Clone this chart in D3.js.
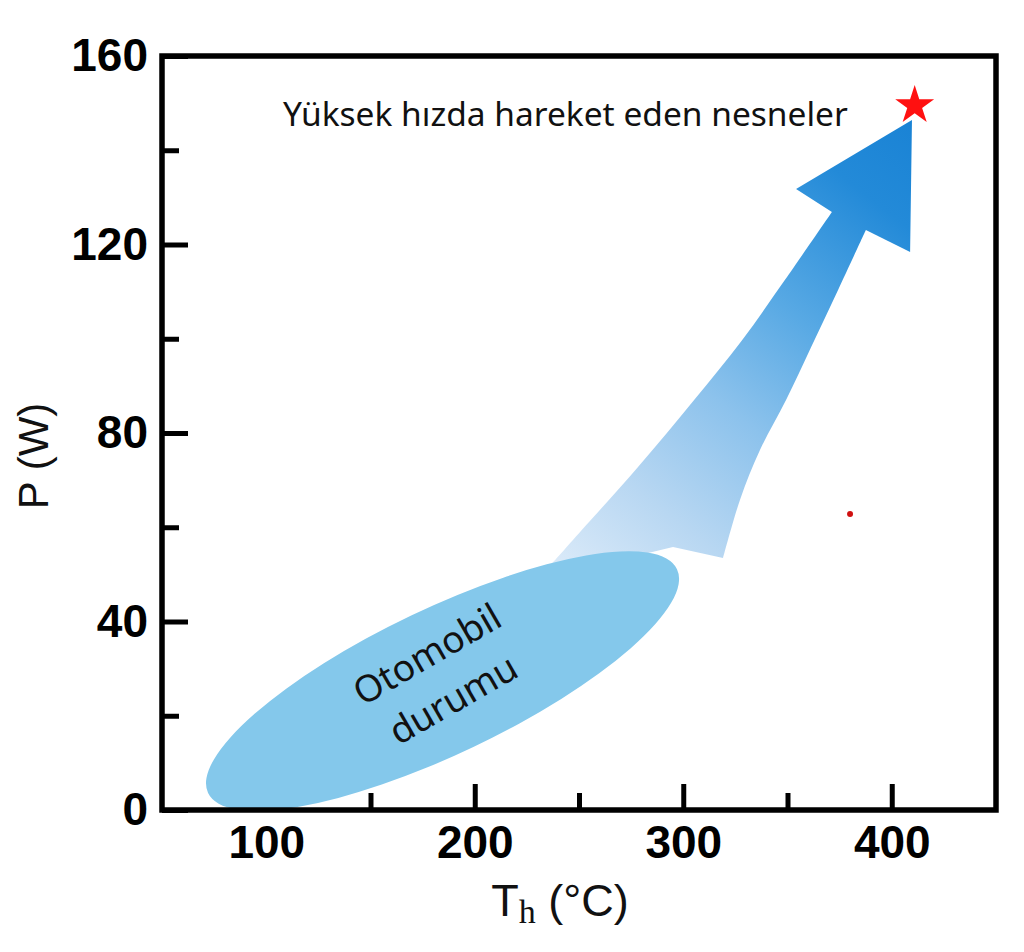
<!DOCTYPE html>
<html><head><meta charset="utf-8">
<script src="https://cdn.jsdelivr.net/npm/d3@7"></script>
<style>body{margin:0;background:#fff}</style>
</head><body><svg id="c" width="1024" height="952"></svg>
<script>
// ---- data ----
const xDomain = [50, 450];
const yDomain = [0, 160];
const xMajor = [100, 200, 300, 400];
const xMinor = [150, 250, 350];
const yMajor = [0, 40, 80, 120, 160];
const yMinor = [20, 60, 100, 140];
const xTitle = "T";
const xTitleSub = "h";
const xTitleRest = " (°C)";
const yTitle = "P (W)";
// arrow outline (T, P): head, right edge (top→bottom), bottom, left edge (bottom→top)
const headT = [354.1, 409.7, 408.8];
const headP = [131.8, 146.4, 118.4];
const rightEdgeT = [387.6, 374.2, 361.3, 349.3, 336.8, 327.2, 319.1];
const rightEdgeP = [123.1, 110.3, 98.2, 87.0, 76.4, 65.8, 53.5];
const bottomT = [295.1, 269.7, 243.3];
const bottomP = [55.8, 53.1, 49.9];
const leftEdgeT = [234.2, 247.1, 278.3, 305.2, 328.2, 348.8, 371.3];
const leftEdgeP = [50.9, 57.3, 72.8, 87.0, 99.7, 112.5, 126.9];
// automobile region: ends of the long axis (T, P)
const regionT = [72.1, 297.0];
const regionP = [3.6, 51.1];
const regionLabel = ["Otomobil", "durumu"];
const starT = [411], starP = [149.5];
const dotT = [380], dotP = [62.8];
const topLabel = "Yüksek hızda hareket eden nesneler";

// ---- chart ----
const svg = d3.select("#c");
const x = d3.scaleLinear().domain(xDomain).range([162, 996]);
const y = d3.scaleLinear().domain(yDomain).range([810, 56]);

const defs = svg.append("defs");
const grad = defs.append("linearGradient").attr("id", "ag")
  .attr("gradientUnits", "userSpaceOnUse")
  .attr("x1", x(240)).attr("y1", y(50)).attr("x2", x(410)).attr("y2", y(146));
[[0, "#dcebf9"], [0.2, "#b8d7f2"], [0.41, "#8cc2ec"], [0.61, "#58a9e4"], [0.85, "#238ad8"], [1, "#1a83d5"]]
  .forEach(([o, c]) => grad.append("stop").attr("offset", o).attr("stop-color", c));

const tickFont = "'Liberation Sans', Arial, sans-serif";

// axes ticks
const gx = svg.append("g").attr("transform", "translate(0,810)")
  .call(d3.axisBottom(x).tickValues(xMajor).tickSize(-26).tickPadding(15).tickFormat(d3.format("d")));
const gxm = svg.append("g").attr("transform", "translate(0,810)")
  .call(d3.axisBottom(x).tickValues(xMinor).tickSize(-17).tickFormat(""));
const gy = svg.append("g").attr("transform", "translate(162,0)")
  .call(d3.axisLeft(y).tickValues(yMajor).tickSize(-26).tickPadding(14).tickFormat(d3.format("d")));
const gym = svg.append("g").attr("transform", "translate(162,0)")
  .call(d3.axisLeft(y).tickValues(yMinor).tickSize(-17).tickFormat(""));
[gx, gxm, gy, gym].forEach(g => {
  g.select(".domain").remove();
  g.selectAll("line").attr("stroke", "#000").attr("stroke-width", 5);
  g.selectAll("text").attr("font-family", tickFont).attr("font-weight", "bold")
    .attr("font-size", 46).attr("fill", "#000");
});

// arrow
const toPts = (ts, ps) => ts.map((t, i) => [x(t), y(ps[i])]);
const headPts = toPts(headT, headP);
const rightPts = toPts(rightEdgeT, rightEdgeP);
const bottomPts = toPts(bottomT, bottomP);
const leftPts = toPts(leftEdgeT, leftEdgeP);
const smooth = d3.line().curve(d3.curveCatmullRom.alpha(0.5));
const straight = d3.line();
const join = s => s.replace(/^M/, "L");
const arrowD = straight(headPts.slice(1)) + join(smooth(rightPts)) + join(straight(bottomPts))
  + join(smooth(leftPts)) + join(straight([headPts[0]])) + "Z";
svg.append("path").attr("d", arrowD).attr("fill", "url(#ag)");

// ellipse region
const ex0 = x(regionT[0]), ey0 = y(regionP[0]), ex1 = x(regionT[1]), ey1 = y(regionP[1]);
const ecx = (ex0 + ex1) / 2, ecy = (ey0 + ey1) / 2;
const ea = Math.hypot(ex1 - ex0, ey1 - ey0) / 2;
const eang = Math.atan2(ey1 - ey0, ex1 - ex0) * 180 / Math.PI;
svg.append("ellipse").attr("cx", 0).attr("cy", 0).attr("rx", ea).attr("ry", ea * 0.28)
  .attr("transform", `translate(${ecx},${ecy}) rotate(${eang})`)
  .attr("fill", "#84c8eb");

const lbl = svg.append("text")
  .attr("transform", `translate(${ecx},${ecy}) rotate(-30)`)
  .attr("font-family", "'Noto Sans', sans-serif").attr("font-size", 37)
  .attr("text-anchor", "middle").attr("fill", "#111");
lbl.selectAll("tspan").data(regionLabel).join("tspan")
  .attr("x", 0).attr("y", (d, i) => i === 0 ? -18 : 34).text(d => d);

// spines
svg.append("rect").attr("x", x(xDomain[0])).attr("y", y(yDomain[1]))
  .attr("width", x(xDomain[1]) - x(xDomain[0])).attr("height", y(yDomain[0]) - y(yDomain[1]))
  .attr("fill", "none").attr("stroke", "#000").attr("stroke-width", 5.5);

// star + dot
svg.selectAll(".star").data(starT).join("path").attr("class", "star")
  .attr("d", d3.symbol(d3.symbolStar, 470)())
  .attr("transform", (d, i) => `translate(${x(d)},${y(starP[i])})`)
  .attr("fill", "#ff1010");
svg.selectAll(".dot").data(dotT).join("circle").attr("class", "dot")
  .attr("cx", d => x(d)).attr("cy", (d, i) => y(dotP[i])).attr("r", 3)
  .attr("fill", "#d01010");

// top annotation
svg.append("text").attr("x", 283).attr("y", 126)
  .attr("font-family", "'Noto Sans', sans-serif").attr("font-size", 33.5)
  .attr("fill", "#111").text(topLabel);

// axis titles
const xt = svg.append("text").attr("x", 560).attr("y", 916).attr("text-anchor", "middle")
  .attr("font-family", tickFont).attr("font-size", 45).attr("fill", "#111");
xt.append("tspan").text(xTitle);
xt.append("tspan").attr("font-family", "'Liberation Serif', serif").attr("font-size", 34).attr("dy", 7).text(xTitleSub);
xt.append("tspan").attr("dy", -7).text(xTitleRest);

svg.append("text").attr("transform", "translate(48,456) rotate(-90)").attr("text-anchor", "middle")
  .attr("font-family", tickFont).attr("font-size", 42).attr("fill", "#111").text(yTitle);
</script></body></html>
